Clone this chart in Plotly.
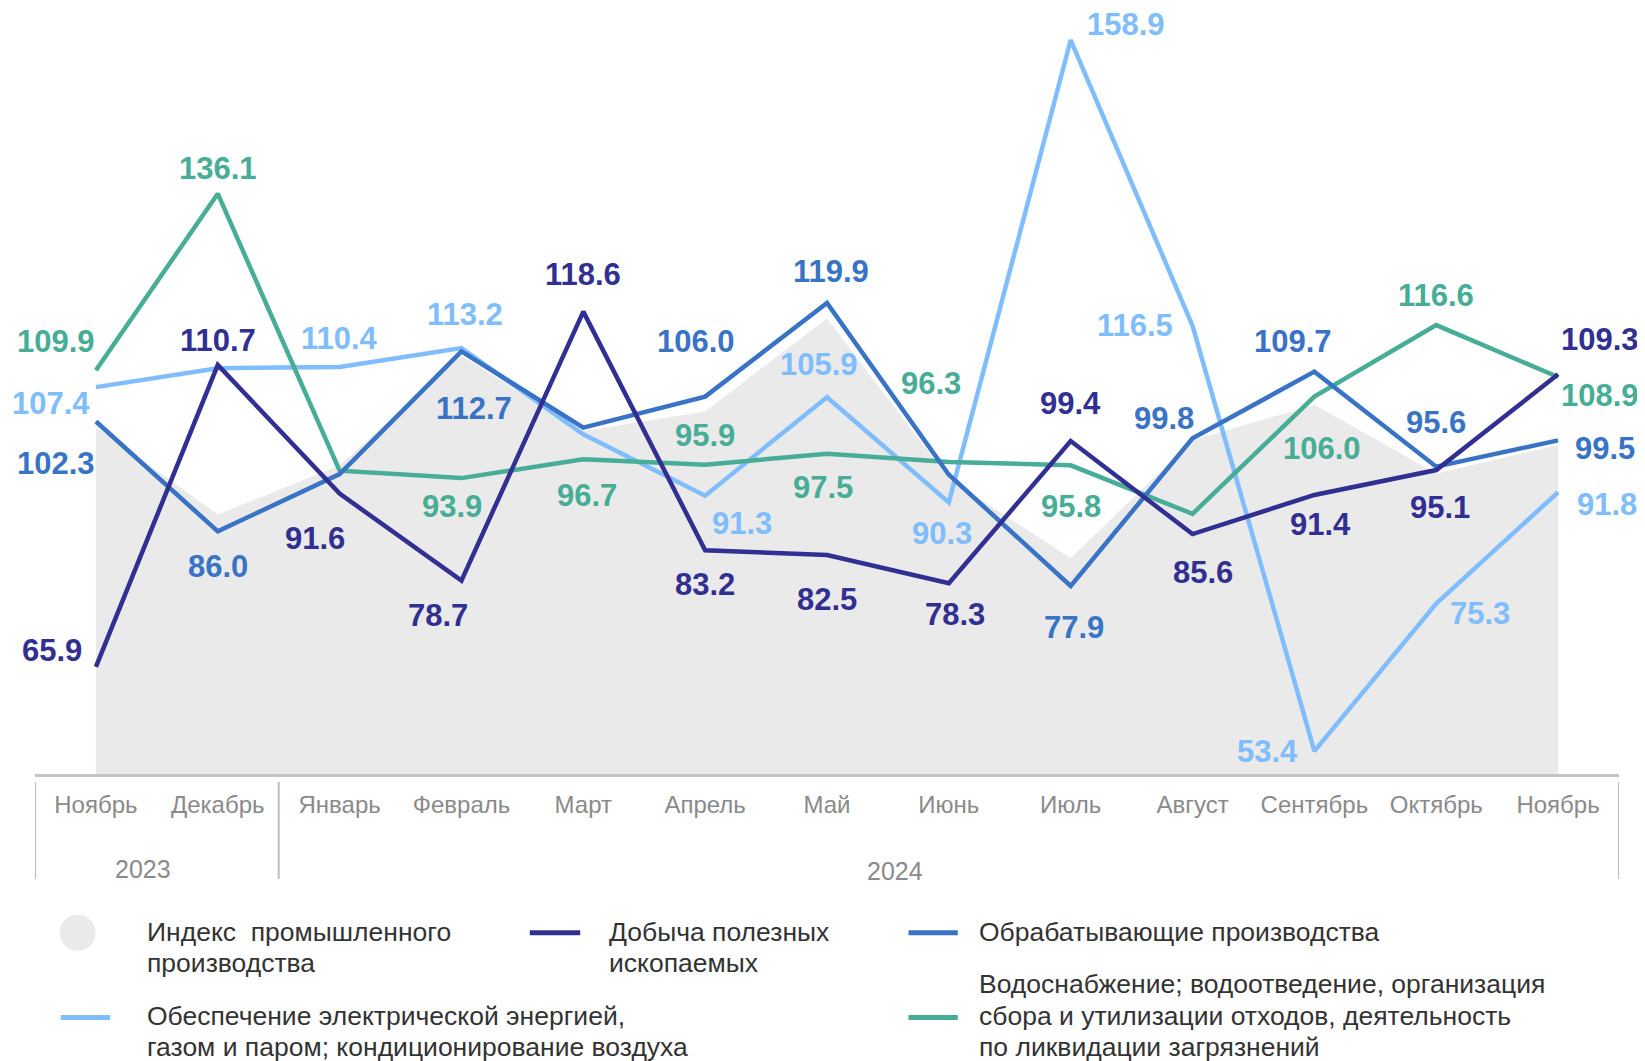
import plotly.graph_objects as go

# ---------------- data ----------------
months = ["Ноябрь", "Декабрь", "Январь", "Февраль", "Март", "Апрель", "Май",
          "Июнь", "Июль", "Август", "Сентябрь", "Октябрь", "Ноябрь"]
years = ["2023", "2024"]

index_prod = [101.5, 88.5, 95.8, 112.0, 100.9, 103.8, 117.6, 93.8, 82.0, 99.5, 104.8, 94.6, 98.8]
mining = [65.9, 110.7, 91.6, 78.7, 118.6, 83.2, 82.5, 78.3, 99.4, 85.6, 91.4, 95.1, 109.3]
manuf = [102.3, 86.0, 94.5, 112.7, 101.4, 106.0, 119.9, 94.4, 77.9, 99.8, 109.7, 95.6, 99.5]
energy = [107.4, 110.2, 110.4, 113.2, 100.4, 91.3, 105.9, 90.3, 158.9, 116.5, 53.4, 75.3, 91.8]
water = [109.9, 136.1, 95.0, 93.9, 96.7, 95.9, 97.5, 96.3, 95.8, 88.6, 106.0, 116.6, 108.9]

legend_names = [
    ["Индекс  промышленного", "производства"],
    ["Добыча полезных", "ископаемых"],
    ["Обрабатывающие производства"],
    ["Обеспечение электрической энергией,", "газом и паром; кондиционирование воздуха"],
    ["Водоснабжение; водоотведение, организация", "сбора и утилизации отходов, деятельность",
     "по ликвидации загрязнений"],
]

# ---------------- styles ----------------
C_AREA = "#EAEAEA"
C_MIN = "#312F91"
C_MAN = "#3873C6"
C_ENE = "#80BDFC"
C_WAT = "#47AD97"
FONT = "Arial, Liberation Sans, sans-serif"

# label offsets (xshift, yshift) in px; None = no label
off_min = [(-44, 16), (0, 24), (-25, -45), (-23, -35), (0, 37), (0, -34), (0, -45),
           (6, -31), (0, 38), (10, -38), (6, -30), (4, -37), (42, 35)]
off_man = [(-40, -42), (0, -35), None, (13, -57), None, (-9, 55), (4, 31),
           None, (3, -42), (-29, 20), (-21, 30), (0, 44), (47, -8)]
off_ene = [(-45, -16), None, (0, 28), (4, 34), None, (37, -28), (-8, 33),
           (-7, -31), (55, 16), (-58, 0), (-47, 0), (44, -10), (49, -12)]
off_wat = [(-40, 29), (0, 25), None, (-9, -28), (4, -36), (0, 29), (-4, -34),
           (-18, 78), (0, -41), None, (8, -52), (0, 30), (42, -18)]

W, H = 1645, 1061
OFF = 8  # page body margin
ML, MR, MT, MB = 27, 34, 0, 295
PW, PH = W - ML - MR, H - MT - MB


def px(x):
    return (x - OFF - ML) / PW


def py(y):
    return (H - MB - (y - OFF)) / PH


x = list(range(len(months)))
fig = go.Figure()

fig.add_trace(go.Scatter(x=x, y=index_prod, mode="lines", fill="tozeroy",
                         fillcolor=C_AREA, line=dict(width=0, color=C_AREA),
                         hoverinfo="skip", showlegend=False))

series = [(energy, C_ENE, off_ene), (water, C_WAT, off_wat),
          (manuf, C_MAN, off_man), (mining, C_MIN, off_min)]
for vals, col, _ in series:
    fig.add_trace(go.Scatter(x=x, y=vals, mode="lines",
                             line=dict(color=col, width=4.5),
                             showlegend=False))

annotations = []
for vals, col, offs in series:
    for i, (v, o) in enumerate(zip(vals, offs)):
        if o is None:
            continue
        annotations.append(dict(x=i, y=v, xref="x", yref="y", text=f"{v:.1f}",
                                showarrow=False, xshift=o[0], yshift=o[1],
                                font=dict(family=FONT, size=31, color=col,
                                          weight="bold")))

# year labels
annotations.append(dict(x=0.39, y=py(868.6), xref="x", yref="paper", text=years[0],
                        showarrow=False, yanchor="middle",
                        font=dict(family=FONT, size=25, color="#8A8A8A")))
annotations.append(dict(x=6.56, y=py(870.7), xref="x", yref="paper", text=years[1],
                        showarrow=False, yanchor="middle",
                        font=dict(family=FONT, size=25, color="#8A8A8A")))

shapes = []
for xv in (-0.5, 1.5, 12.5):
    shapes.append(dict(type="line", xref="x", yref="paper", x0=xv, x1=xv,
                       y0=py(782), y1=py(879), line=dict(color="#BDBDBD", width=2)))

# legend
shapes.append(dict(type="circle", xref="paper", yref="paper",
                   x0=px(77.6 - 18), x1=px(77.6 + 18), y0=py(932.7 + 18), y1=py(932.7 - 18),
                   fillcolor=C_AREA, line=dict(width=0)))
for (x0, x1, yy, col) in [(529.8, 580.2, 932.7, C_MIN), (908.5, 957.8, 932.7, C_MAN),
                          (60.8, 110.2, 1017.6, C_ENE), (908.5, 957.8, 1017.6, C_WAT)]:
    shapes.append(dict(type="line", xref="paper", yref="paper", x0=px(x0), x1=px(x1),
                       y0=py(yy), y1=py(yy), line=dict(color=col, width=5)))

leg_pos = [(145.0, 931.6), (606.5, 931.6), (977.0, 931.6), (145.0, 1015.5), (977.0, 984.0)]
for lines, (lx, ly) in zip(legend_names, leg_pos):
    for k, t in enumerate(lines):
        annotations.append(dict(x=px(lx), y=py(ly + k * 31.5), xref="paper", yref="paper",
                                text=t, showarrow=False, xanchor="left", yanchor="middle",
                                font=dict(family=FONT, size=26.5, color="#333333")))

fig.update_layout(
    width=W, height=H,
    margin=dict(l=ML, r=MR, t=MT, b=MB),
    paper_bgcolor="white", plot_bgcolor="white",
    showlegend=False,
    xaxis=dict(range=[-0.5, 12.5], tickvals=x, ticktext=months, showgrid=False,
               zeroline=False, showline=True, linecolor="#C4C4C4", linewidth=3,
               ticks="", ticklabelstandoff=7,
               tickfont=dict(family=FONT, size=24, color="#8A8A8A")),
    yaxis=dict(range=[50, 163.65], showgrid=False, zeroline=False, showline=False,
               showticklabels=False, ticks=""),
    annotations=annotations,
    shapes=shapes,
)

fig.write_html("out.html")
